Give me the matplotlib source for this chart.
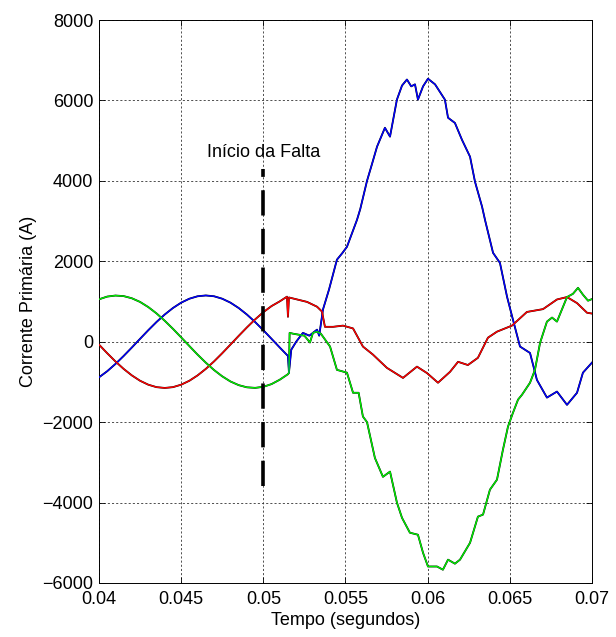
import numpy as np
import matplotlib
matplotlib.use("Agg")
import matplotlib.pyplot as plt

plt.rcParams['font.family'] = ['Liberation Sans', 'DejaVu Sans']

# pre-fault samples (0.040 .. 0.0515 s, every 0.5 ms)
t_pre = [0.0400, 0.0405, 0.0410, 0.0415, 0.0420, 0.0425, 0.0430, 0.0435,
         0.0440, 0.0445, 0.0450, 0.0455, 0.0460, 0.0465, 0.0470, 0.0475,
         0.0480, 0.0485, 0.0490, 0.0495, 0.0500, 0.0505, 0.0510, 0.0515]
ia_pre = [-886, -734, -554, -355, -144, 72, 286, 490, 676, 838, 971, 1069,
          1130, 1150, 1130, 1069, 971, 838, 676, 490, 286, 72, -144, -355]
ib_pre = [-72, -286, -490, -676, -838, -971, -1069, -1130, -1150, -1130,
          -1069, -971, -838, -676, -490, -286, -72, 144, 355, 554, 734, 886,
          1003, 1090]
ic_pre = [1054, 1122, 1148, 1134, 1080, 989, 861, 704, 521, 321, 108, -108,
          -321, -521, -704, -861, -989, -1080, -1134, -1148, -1122, -1054,
          -945, -808]

# post-fault, blue phase
t_a = [0.05156, 0.0517, 0.0520, 0.05241, 0.0528, 0.05327, 0.0534, 0.05363,
       0.0540, 0.05448, 0.0548, 0.05509, 0.0557, 0.0559, 0.05631, 0.0566,
       0.05692, 0.0574, 0.05771, 0.05813, 0.05844, 0.05874, 0.0590, 0.05923,
       0.05941, 0.05972, 0.06002, 0.06045, 0.06105, 0.06124, 0.06166,
       0.06209, 0.06258, 0.06288, 0.06331, 0.06349, 0.06398, 0.0644,
       0.06483, 0.06519, 0.06562, 0.06623, 0.06665, 0.06726, 0.06787,
       0.06848, 0.06909, 0.06945, 0.0700]
ia = [-770, -200, 0, 220, 150, 300, 150, 800, 1300, 2040, 2200, 2360, 3030,
      3300, 4000, 4400, 4850, 5320, 5100, 6020, 6370, 6520, 6350, 6400, 6020,
      6350, 6540, 6400, 6020, 5570, 5440, 5020, 4600, 3980, 3360, 3030, 2210,
      1960, 1120, 550, -120, -280, -950, -1390, -1240, -1570, -1270, -770,
      -520]

# post-fault, red phase
t_b = [0.05144, 0.0515, 0.05156, 0.05266, 0.05327, 0.05357, 0.05375,
       0.05424, 0.05485, 0.05546, 0.05606, 0.05667, 0.05752, 0.0585,
       0.05935, 0.05996, 0.06063, 0.06136, 0.06185, 0.06245, 0.06306,
       0.06367, 0.06422, 0.06513, 0.06604, 0.06702, 0.06787, 0.06848,
       0.06909, 0.0697, 0.0700]
ib = [1120, 620, 1100, 990, 870, 750, 370, 370, 400, 330, -120, -320, -650,
      -900, -620, -780, -1020, -750, -500, -580, -400, 100, 250, 400, 740,
      810, 1050, 1110, 960, 720, 700]

# post-fault, green phase
t_c = [0.05156, 0.0516, 0.0518, 0.0525, 0.05284, 0.05302, 0.05327, 0.0535,
       0.05406, 0.05448, 0.05509, 0.05546, 0.0558, 0.05606, 0.05631,
       0.05679, 0.05728, 0.05771, 0.05813, 0.05844, 0.05892, 0.05941,
       0.05972, 0.06002, 0.06057, 0.06093, 0.06124, 0.06166, 0.06197,
       0.06258, 0.06306, 0.06337, 0.06379, 0.06422, 0.06458, 0.06489,
       0.06519, 0.0655, 0.06574, 0.06623, 0.06653, 0.06684, 0.06726,
       0.06757, 0.06787, 0.06817, 0.06848, 0.06884, 0.06915, 0.06945,
       0.06976, 0.0700]
ic = [-770, 220, 200, 150, -20, 220, 250, 200, -120, -700, -770, -1270,
      -1270, -1860, -2000, -2890, -3360, -3230, -4000, -4380, -4750, -4800,
      -5250, -5590, -5590, -5670, -5420, -5520, -5420, -5000, -4350, -4300,
      -3680, -3430, -2690, -2110, -1770, -1440, -1320, -1020, -700, -30, 500,
      600, 500, 800, 1110, 1190, 1340, 1170, 1020, 1060]

fault_t = 0.05
fault_span = [-3600, 4300]
fault_label = "Início da Falta"

xticks = [0.04, 0.045, 0.05, 0.055, 0.06, 0.065, 0.07]
xticklabels = ["0.04", "0.045", "0.05", "0.055", "0.06", "0.065", "0.07"]
yticks = np.arange(-6000, 8001, 2000)

fs = 13

fig = plt.figure(figsize=(6.16, 6.37), dpi=100)
ax = fig.add_axes([0.1607, 0.0848, 0.8003, 0.8838])

phases = [
    (t_pre + t_a, ia_pre + ia, '#0000ff'),
    (t_pre[:-1] + t_b, ib_pre[:-1] + ib, '#ff0000'),
    (t_pre + t_c, ic_pre + ic, '#00ee00'),
]
for tt, yy, col in phases:
    # black trace underneath, coloured trace on top
    ax.plot(tt, yy, color='black', lw=1.3, zorder=2)
    ax.plot(tt, yy, color=col, lw=1.0, zorder=3)

ax.plot([fault_t, fault_t], fault_span, color='black', lw=2.6,
        dashes=(7, 3.7), zorder=4)
ax.text(fault_t, 4700, fault_label, ha='center', va='center', fontsize=fs)

ax.set_xlim(0.04, 0.07)
ax.set_ylim(-6000, 8000)
ax.set_xticks(xticks)
ax.set_xticklabels(xticklabels)
ax.set_yticks(yticks)
ax.grid(True, color='0.2', lw=0.6, linestyle=(0, (2.5, 2.5)))
ax.tick_params(direction='in', top=True, right=True, length=4,
               labelsize=fs, width=0.6, pad=4)
ax.tick_params(axis='x', pad=6)
for s in ax.spines.values():
    s.set_linewidth(0.7)
ax.set_xlabel("Tempo (segundos)", fontsize=fs, labelpad=3)
ax.set_ylabel("Corrente Primária (A)", fontsize=fs, labelpad=4)

fig.savefig("out.png", dpi=100)
